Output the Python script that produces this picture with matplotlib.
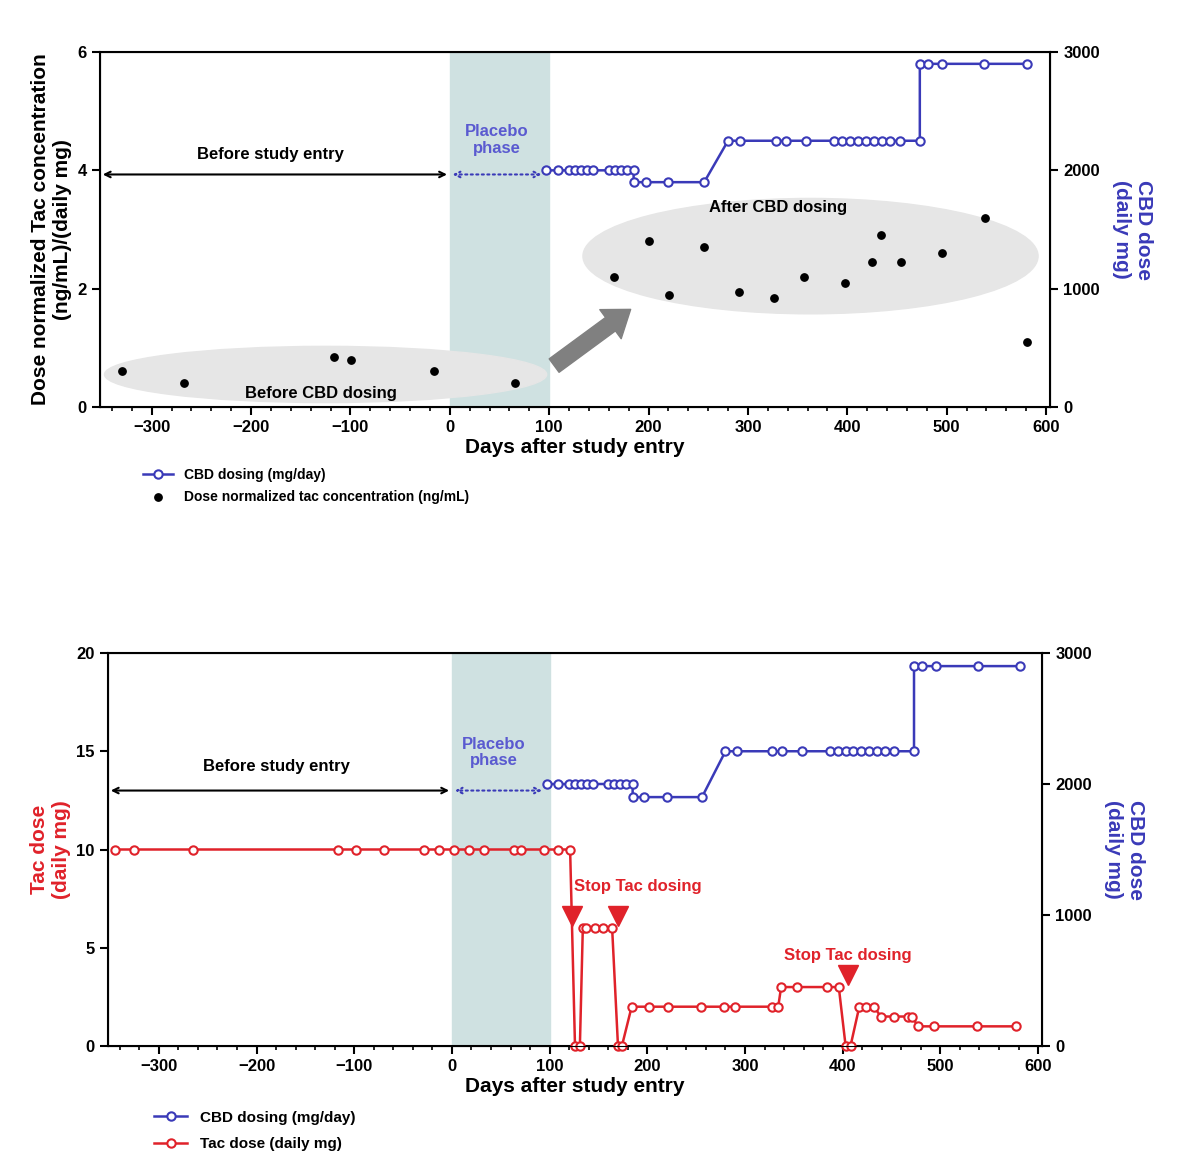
import matplotlib.pyplot as plt
from matplotlib.patches import Ellipse
from matplotlib.ticker import MultipleLocator

# CBD dosing (days, mg/day)
cbd_days = [97, 109, 120, 126, 132, 138, 144, 160, 166, 172, 178, 185,
            185, 197, 220, 256,
            280, 292, 328, 338, 358, 387, 395, 403, 411, 419, 427, 435, 443, 453, 473,
            473, 481, 495, 538, 581]
cbd_dose = [2000] * 12 + [1900] * 4 + [2250] * 15 + [2900] * 5

# dose normalized tac concentration
conc_days = [-330, -267, -117, -99, -16, 66, 165, 200, 221, 256, 291, 326,
             356, 398, 425, 434, 454, 495, 539, 581]
conc_vals = [0.6, 0.4, 0.85, 0.8, 0.6, 0.4, 2.2, 2.8, 1.9, 2.7, 1.95, 1.85,
             2.2, 2.1, 2.45, 2.9, 2.45, 2.6, 3.2, 1.1]

# tac dose
tac_days = [-345, -325, -265, -117, -98, -70, -29, -13, 2, 17, 33, 64, 71, 94, 109, 121,
            126, 131, 134, 137, 146, 155, 164, 170, 174,
            184, 202, 221, 255, 278, 290, 328, 334,
            337, 353, 384, 396, 403, 408,
            417, 424, 432, 439, 453, 467, 471, 477, 493, 537, 577]
tac_dose = [10] * 16 + [0, 0, 6, 6, 6, 6, 6, 0, 0] + [2] * 8 + [3] * 4 + [0, 0] + \
           [2] * 3 + [1.5] * 4 + [1] * 4

BLUE = '#3a3ab8'
RED = '#e0222a'
plt.rcParams['font.family'] = ['Liberation Sans', 'DejaVu Sans']
plt.rcParams['font.weight'] = 'bold'

fig = plt.figure(figsize=(12, 11.71), dpi=100)
W, H = 1200, 1171


def make_axes(l, r, t, b):
    return fig.add_axes([l / W, 1 - b / H, (r - l) / W, (b - t) / H])


def style_x(ax):
    ax.set_xlim(-352, 604)
    ax.xaxis.set_major_locator(MultipleLocator(100))
    ax.xaxis.set_minor_locator(MultipleLocator(20))
    ax.set_xlabel('Days after study entry', fontsize=15, fontweight='bold', labelpad=2)
    ax.tick_params(labelsize=12, width=1.5, length=6)
    ax.tick_params(which='minor', width=1.2, length=3)
    for s in ax.spines.values():
        s.set_linewidth(1.5)
    ax.axvspan(0, 100, color='#cfe1e1', zorder=0)


def draw_cbd(ax2, label):
    ax2.plot(cbd_days, cbd_dose, color=BLUE, lw=1.8, marker='o', ms=6,
             mfc='white', mec=BLUE, mew=1.5, label=label)
    ax2.set_ylim(0, 3000)
    ax2.yaxis.set_major_locator(MultipleLocator(1000))
    ax2.tick_params(labelsize=12, width=1.5, length=6)
    ax2.set_ylabel('CBD dose\n(daily mg)', color=BLUE, fontsize=15,
                   fontweight='bold', rotation=270, labelpad=38)


def study_arrows(ax, y):
    ax.annotate('', xy=(-352, y), xytext=(0, y),
                arrowprops=dict(arrowstyle='<->', color='black', lw=1.5))
    ax.annotate('', xy=(0, y), xytext=(95, y),
                arrowprops=dict(arrowstyle='<->', color=BLUE, lw=1.5, ls=':'))


# ---- top panel ----
ax = make_axes(100, 1050, 52, 407)
style_x(ax)
ax.set_ylim(0, 6)
ax.yaxis.set_major_locator(MultipleLocator(2))
ax.set_ylabel('Dose normalized Tac concentration\n(ng/mL)/(daily mg)', fontsize=15,
              fontweight='bold')
ax.add_patch(Ellipse((-125, 0.55), 445, 0.95, color='#e6e6e6', zorder=1))
ax.add_patch(Ellipse((363, 2.55), 458, 1.95, color='#e6e6e6', zorder=1))
ax.annotate('', xy=(182, 1.65), xytext=(105, 0.7),
            arrowprops=dict(width=12, headwidth=26, headlength=18, color='#808080'))
ax.scatter(conc_days, conc_vals, color='black', s=28, zorder=4,
           label='Dose normalized tac concentration (ng/mL)')
study_arrows(ax, 3.93)
ax.text(-180, 4.2, 'Before study entry', ha='center', fontsize=12)
ax.text(47, 4.3, 'Placebo\nphase', ha='center', color='#5a5ad0', fontsize=12,
        linespacing=1.1)
ax.text(-130, 0.15, 'Before CBD dosing', ha='center', fontsize=12, zorder=5)
ax.text(330, 3.3, 'After CBD dosing', ha='center', fontsize=12, zorder=5)
ax2 = ax.twinx()
draw_cbd(ax2, 'CBD dosing (mg/day)')
h1, l1 = ax2.get_legend_handles_labels()
h2, l2 = ax.get_legend_handles_labels()
fig.legend(h1 + h2, l1 + l2, loc='upper left', bbox_to_anchor=(130 / W, 1 - 455 / H),
           frameon=False, fontsize=10, handlelength=2.2, labelspacing=0.6)

# ---- bottom panel ----
bx = make_axes(108, 1042, 653, 1046)
style_x(bx)
bx.set_ylim(0, 20)
bx.yaxis.set_major_locator(MultipleLocator(5))
bx.set_ylabel('Tac dose\n(daily mg)', color=RED, fontsize=15, fontweight='bold')
bx.plot(tac_days, tac_dose, color=RED, lw=1.8, marker='o', ms=6, mfc='white',
        mec=RED, mew=1.5, label='Tac dose (daily mg)', clip_on=False, zorder=4)
study_arrows(bx, 13)
bx.text(-180, 14, 'Before study entry', ha='center', fontsize=12)
bx.text(43, 14.3, 'Placebo\nphase', ha='center', color='#5a5ad0', fontsize=12,
        linespacing=1.1)
for xm, ym in [(123, 6.6), (170, 6.6), (405, 3.6)]:
    bx.plot(xm, ym, marker='v', color=RED, ms=14, zorder=5)
bx.text(125, 7.9, 'Stop Tac dosing', color=RED, fontsize=12)
bx.text(340, 4.4, 'Stop Tac dosing', color=RED, fontsize=12)
bx2 = bx.twinx()
draw_cbd(bx2, 'CBD dosing (mg/day)')
h1, l1 = bx2.get_legend_handles_labels()
h2, l2 = bx.get_legend_handles_labels()
fig.legend(h1 + h2, l1 + l2, loc='upper left', bbox_to_anchor=(140 / W, 1 - 1097 / H),
           frameon=False, fontsize=11, handlelength=2.2, labelspacing=0.8)

fig.savefig('out.png', dpi=100, facecolor='white')
